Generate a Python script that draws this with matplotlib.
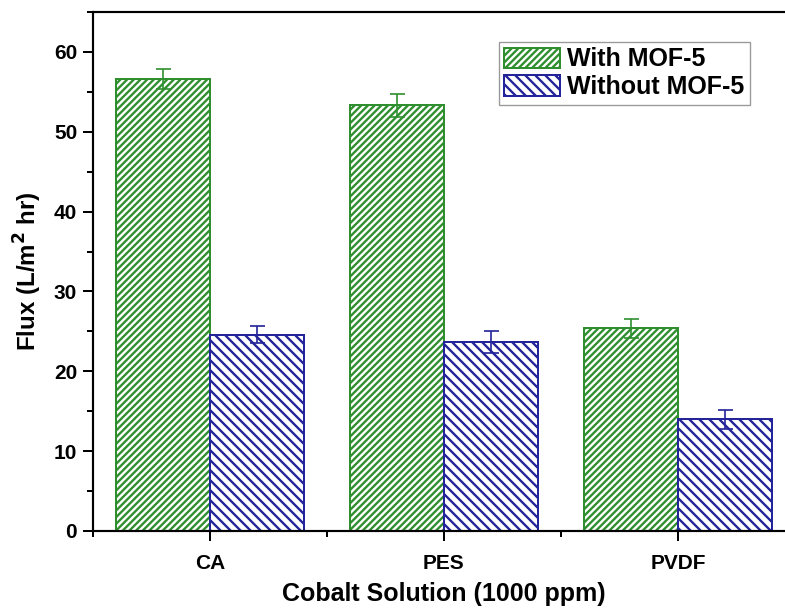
import numpy as np
import matplotlib
matplotlib.use("Agg")
import matplotlib.pyplot as plt
from matplotlib.ticker import MultipleLocator, FixedLocator

plt.rcParams['font.family'] = ['Liberation Sans', 'DejaVu Sans']
plt.rcParams['font.weight'] = 'bold'
plt.rcParams['hatch.linewidth'] = 1.4

# data
categories = ['CA', 'PES', 'PVDF']
with_mof = [56.6, 53.3, 25.4]
with_err = [1.25, 1.4, 1.2]
without_mof = [24.6, 23.7, 14.0]
without_err = [1.1, 1.4, 1.2]

green = '#2f8f2f'
blue = '#23239a'

fig = plt.figure(figsize=(785 / 120, 615 / 120), dpi=120)
ax = fig.add_axes([93 / 785, 1 - 531 / 615, 702 / 785, 519 / 615])

x = np.arange(1, len(categories) + 1)
w = 0.4
ax.bar(x - w / 2, with_mof, w, facecolor='white', edgecolor=green, hatch='//////',
       linewidth=1.2, label='With MOF-5')
ax.bar(x + w / 2, without_mof, w, facecolor='white', edgecolor=blue, hatch='\\\\\\\\',
       linewidth=1.2, label='Without MOF-5')
ax.errorbar(x - w / 2, with_mof, yerr=with_err, fmt='none', ecolor=green,
            elinewidth=1, capsize=4.5, capthick=1)
ax.errorbar(x + w / 2, without_mof, yerr=without_err, fmt='none', ecolor=blue,
            elinewidth=1, capsize=4.5, capthick=1)

ax.set_xlim(0.5, 3.5)
ax.set_ylim(0, 65)
ax.set_xticks(x)
ax.set_xticklabels(categories)
ax.xaxis.set_minor_locator(FixedLocator([0.5, 1.5, 2.5, 3.5]))
ax.yaxis.set_major_locator(MultipleLocator(10))
ax.yaxis.set_minor_locator(MultipleLocator(5))

for s in ax.spines.values():
    s.set_linewidth(1.3)
ax.tick_params(which='major', direction='out', length=6, width=1.2, labelsize=12.5)
ax.tick_params(which='minor', direction='out', length=3.5, width=1.2)
ax.tick_params(axis='x', pad=8)

ax.set_xlabel('Cobalt Solution (1000 ppm)', fontsize=15, fontweight='bold', labelpad=5)
ax.set_ylabel('Flux (L/m$^\\mathbf{2}$ hr)', fontsize=14.5, fontweight='bold', labelpad=6)

leg = ax.legend(loc='upper right', bbox_to_anchor=(750 / 785, 1 - 42 / 615),
                bbox_transform=fig.transFigure, borderaxespad=0, fancybox=False,
                edgecolor='#999999', framealpha=1, handlelength=2.25,
                handleheight=0.9, labelspacing=0.15, borderpad=0.22, handletextpad=0.28,
                prop={'weight': 'bold', 'size': 15})
leg.get_frame().set_linewidth(0.8)

fig.savefig('out.png', dpi=120)
